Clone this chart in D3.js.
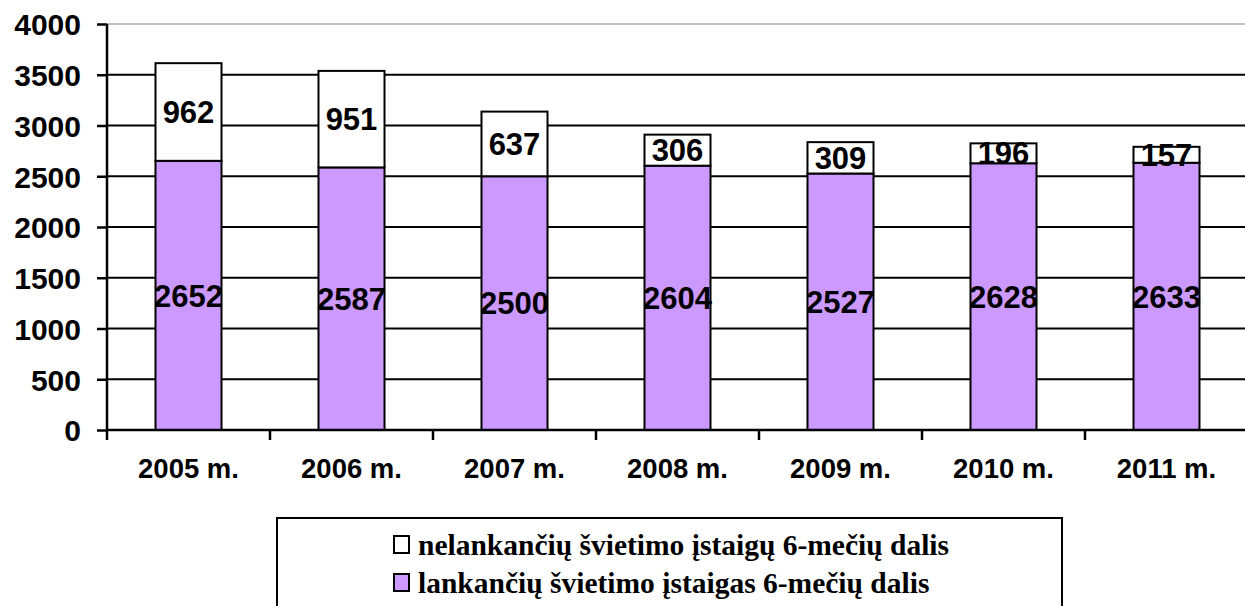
<!DOCTYPE html>
<html>
<head>
<meta charset="utf-8">
<script src="https://cdn.jsdelivr.net/npm/d3@7"></script>
<style>
    body { margin: 0; background: #fff; }
    .tick-label { font-family: Arial, "Liberation Sans", sans-serif; font-weight: bold; }
    .bar-label { font-family: Arial, "Liberation Sans", sans-serif; font-weight: bold; font-size: 31px; }
    .legend-text { font-family: "Times New Roman", "Liberation Serif", serif; font-weight: bold; font-size: 29.5px; }
</style>
</head>
<body>
<div id="chart"></div>
<script>
// Chart data
const years = ["2005 m.", "2006 m.", "2007 m.", "2008 m.", "2009 m.", "2010 m.", "2011 m."];
const attending = [2652, 2587, 2500, 2604, 2527, 2628, 2633];
const notAttending = [962, 951, 637, 306, 309, 196, 157];
const yTicks = [0, 500, 1000, 1500, 2000, 2500, 3000, 3500, 4000];
const seriesNames = ["nelankančių švietimo įstaigų 6-mečių dalis", "lankančių švietimo įstaigas 6-mečių dalis"];

const width = 1245, height = 606;

let svg = d3.select("#chart")
    .append("svg")
    .attr("width", width)
    .attr("height", height);

// Scales
let xScale = d3.scaleBand()
    .domain(years)
    .range([107, 1248])
    .paddingInner(0.595)
    .paddingOuter(0.2975);

let yScale = d3.scaleLinear()
    .domain([0, 4000])
    .range([430, 24]);

// Grid lines
svg.selectAll(".grid")
    .data(yTicks.filter(d => d > 0))
    .enter()
    .append("line")
    .attr("x1", 107)
    .attr("x2", width)
    .attr("y1", d => yScale(d))
    .attr("y2", d => yScale(d))
    .attr("stroke", d => d === 4000 ? "#c0c0c0" : "#000")
    .attr("stroke-width", 2);

// Stacked data
let stacked = years.map((y, i) => ({year: y, a: attending[i], b: notAttending[i]}));

// Lower segment (attending)
svg.selectAll(".bar-a")
    .data(stacked)
    .enter()
    .append("rect")
    .attr("x", d => xScale(d.year))
    .attr("y", d => yScale(d.a))
    .attr("width", xScale.bandwidth())
    .attr("height", d => yScale(0) - yScale(d.a))
    .attr("fill", "#cc99ff")
    .attr("stroke", "#000")
    .attr("stroke-width", 2);

// Upper segment (not attending)
svg.selectAll(".bar-b")
    .data(stacked)
    .enter()
    .append("rect")
    .attr("x", d => xScale(d.year))
    .attr("y", d => yScale(d.a + d.b))
    .attr("width", xScale.bandwidth())
    .attr("height", d => yScale(d.a) - yScale(d.a + d.b))
    .attr("fill", "#fff")
    .attr("stroke", "#000")
    .attr("stroke-width", 2);

// Y axis
let yAxis = d3.axisLeft(yScale)
    .tickValues(yTicks)
    .tickFormat(d3.format("d"))
    .tickSize(10)
    .tickPadding(16);

let yGroup = svg.append("g")
    .attr("transform", "translate(107,0)")
    .call(yAxis);
yGroup.select(".domain").attr("stroke-width", 2.5).attr("d", "M0,24V430");
yGroup.selectAll(".tick line").attr("stroke-width", 2.5);
yGroup.selectAll(".tick text")
    .attr("class", "tick-label")
    .style("font-size", "30px")
    .attr("fill", "#000")
    .attr("dy", "0.36em");

// X axis
let xAxis = d3.axisBottom(xScale)
    .tickSize(0)
    .tickPadding(28);

let xGroup = svg.append("g")
    .attr("transform", "translate(0,430)")
    .call(xAxis);
xGroup.select(".domain").attr("stroke-width", 2.5).attr("d", "M107,0H1245");
xGroup.selectAll(".tick text")
    .attr("class", "tick-label")
    .style("font-size", "27.5px")
    .attr("fill", "#000");

// Category separator ticks
svg.selectAll(".xtick")
    .data(years)
    .enter()
    .append("line")
    .attr("x1", d => xScale(d) - (xScale.step() - xScale.bandwidth()) / 2)
    .attr("x2", d => xScale(d) - (xScale.step() - xScale.bandwidth()) / 2)
    .attr("y1", 430)
    .attr("y2", 440)
    .attr("stroke", "#000")
    .attr("stroke-width", 2.5);

// Bar labels
svg.selectAll(".label-a")
    .data(stacked)
    .enter()
    .append("text")
    .attr("class", "bar-label")
    .attr("x", d => xScale(d.year) + xScale.bandwidth() / 2)
    .attr("y", d => yScale(d.a / 2))
    .attr("dy", "0.36em")
    .attr("text-anchor", "middle")
    .text(d => d.a);

svg.selectAll(".label-b")
    .data(stacked)
    .enter()
    .append("text")
    .attr("class", "bar-label")
    .attr("x", d => xScale(d.year) + xScale.bandwidth() / 2)
    .attr("y", d => yScale(d.a + d.b / 2))
    .attr("dy", "0.36em")
    .attr("text-anchor", "middle")
    .text(d => d.b);

// Legend
let legend = svg.append("g");
legend.append("rect")
    .attr("x", 277)
    .attr("y", 518)
    .attr("width", 785)
    .attr("height", 100)
    .attr("fill", "#fff")
    .attr("stroke", "#000")
    .attr("stroke-width", 2);

let legendFill = ["#fff", "#cc99ff"];
seriesNames.forEach((name, i) => {
    let y = 545 + i * 38;
    legend.append("rect")
        .attr("x", 394)
        .attr("y", y - 9)
        .attr("width", 15)
        .attr("height", 17)
        .attr("fill", legendFill[i])
        .attr("stroke", "#000")
        .attr("stroke-width", 2);
    legend.append("text")
        .attr("class", "legend-text")
        .attr("x", 418)
        .attr("y", y)
        .attr("dy", "0.35em")
        .text(name);
});
</script>
</body>
</html>
